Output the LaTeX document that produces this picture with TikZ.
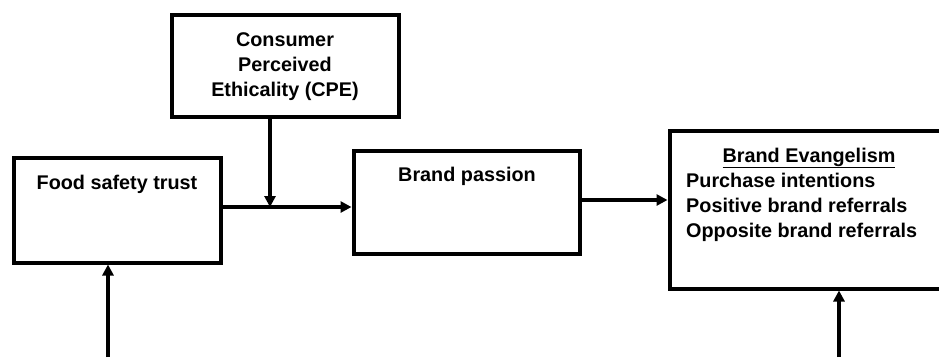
\documentclass[tikz,border=0pt]{standalone}
\usepackage{fontspec}
\setmainfont{Liberation Sans}
\usetikzlibrary{arrows.meta}
\begin{document}
\begin{tikzpicture}[x=1pt,y=-1pt,
  box/.style={draw=black, line width=4pt, rectangle, inner sep=0pt, fill=white},
  lbl/.style={inner sep=0pt, font=\fontsize{19.8}{25}\selectfont\bfseries, text=black},
  arr/.style={draw=black, line width=3.3pt, -{Triangle[length=11pt,width=11pt]}}
]
\useasboundingbox (0,0) rectangle (939,357);
\clip (0,0) rectangle (939,357);

% boxes
\node[box, minimum width=207pt, minimum height=105pt] (fst) at (117,210) {};
\node[box, minimum width=227pt, minimum height=102pt] (cpe) at (285,65.5) {};
\node[box, minimum width=226pt, minimum height=103pt] (bp)  at (466.5,202) {};
\node[box, minimum width=300pt, minimum height=158pt] (be)  at (819.5,209.5) {};

% box texts
\node[lbl, anchor=base] (tfst) at (117,189) {Food safety trust};
\node[lbl, anchor=base] (tcpe1) at (285,46) {Consumer};
\node[lbl, anchor=base] (tcpe2) at (285,71) {Perceived};
\node[lbl, anchor=base] (tcpe3) at (285,96) {Ethicality (CPE)};
\node[lbl, anchor=base] (tbp) at (467,181) {Brand passion};
\node[lbl, anchor=base] (tbe0) at (809,162) {\underline{Brand Evangelism}};
\node[lbl, anchor=base west] (tbe1) at (686,187) {Purchase intentions};
\node[lbl, anchor=base west] (tbe2) at (686,212) {Positive brand referrals};
\node[lbl, anchor=base west] (tbe3) at (686,237) {Opposite brand referrals};

% junction points and free ends
\coordinate (j) at (270,207);
\coordinate (k) at (620,200);
\coordinate (b1) at (108,357);
\coordinate (b2) at (839,357);

% connectors
\draw[line width=3.3pt] (fst.east |- j) -- (j);
\draw[arr] (j) -- (bp.west |- j);
\draw[arr] (cpe.south -| j) -- (j);
\draw[arr] (bp.east |- k) -- (be.west |- k);
\draw[arr] (b1) -- (fst.south -| b1);
\draw[arr] (b2) -- (be.south -| b2);
\end{tikzpicture}
\end{document}
